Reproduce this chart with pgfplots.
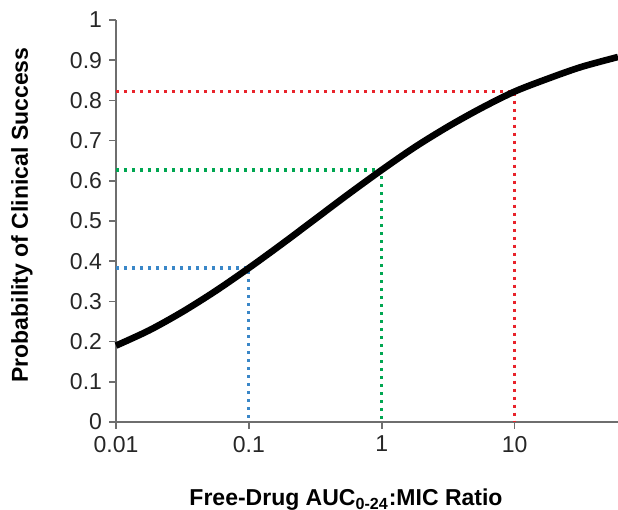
\documentclass[border=0pt]{standalone}
\usepackage{fontspec}
\setmainfont{Liberation Sans}
\usepackage{pgfplots}
\pgfplotsset{compat=1.18}
\definecolor{refred}{HTML}{E8232B}
\definecolor{refgreen}{HTML}{00A651}
\definecolor{refblue}{HTML}{3A87C8}
\definecolor{axgray}{HTML}{6E6E6E}
\tikzset{refdot/.style={line width=1.6pt, dash pattern=on 1.5pt off 2.5pt}}
\begin{document}
\begin{tikzpicture}
\begin{axis}[
  xmode=log,
  width=251pt, height=201pt, scale only axis,
  xmin=0.01, xmax=60, ymin=0, ymax=1,
  axis x line=bottom, axis y line=left,
  axis line style={-, axgray, line width=0.8pt},
  tick align=outside, major tick length=3.5pt,
  tick style={axgray, line width=0.8pt},
  xtick={0.01,0.1,1,10}, xticklabels={0.01,0.1,1,10},
  xminorticks=false,
  ytick={0,0.1,...,1.01},
  yticklabel style={/pgf/number format/fixed, /pgf/number format/precision=1},
  /pgf/number format/assume math mode=true,
  tick label style={font=\fontsize{11.5}{13}\selectfont, black!85},
  xlabel={Free-Drug AUC\textsubscript{0-24}:MIC Ratio},
  ylabel={Probability of Clinical Success},
  label style={font=\bfseries\fontsize{11.5}{13}\selectfont},
  xlabel style={at={(axis description cs:0.5,0)}, anchor=center, xshift=-10.5pt, yshift=-39pt},
  ylabel style={at={(axis description cs:0,0.5)}, anchor=center, xshift=3pt, yshift=47pt},
  clip=false,
]
% reference lines
\addplot[refblue, refdot] coordinates {(0.01,0.383)(0.1,0.383)(0.1,0)};
\addplot[refgreen, refdot] coordinates {(0.01,0.627)(1,0.627)(1,0)};
\addplot[refred, refdot] coordinates {(0.01,0.823)(10,0.823)(10,0)};
% probability curve
\addplot[black, line width=3.3pt, smooth] coordinates {
 (0.01,0.190)(0.01778,0.228)(0.03162,0.274)(0.05623,0.326)(0.1,0.383)
 (0.1778,0.443)(0.3162,0.505)(0.5623,0.567)(1,0.627)(1.778,0.684)
 (3.162,0.735)(5.623,0.781)(10,0.822)(17.78,0.854)(31.62,0.883)(60,0.908)};
\coordinate (bl) at (rel axis cs:0,0);
\coordinate (tr) at (rel axis cs:1,1);
\end{axis}
\pgfresetboundingbox
\path ([shift={(-58pt,-44pt)}]bl) rectangle ([shift={(0pt,10pt)}]tr);
\end{tikzpicture}
\end{document}
